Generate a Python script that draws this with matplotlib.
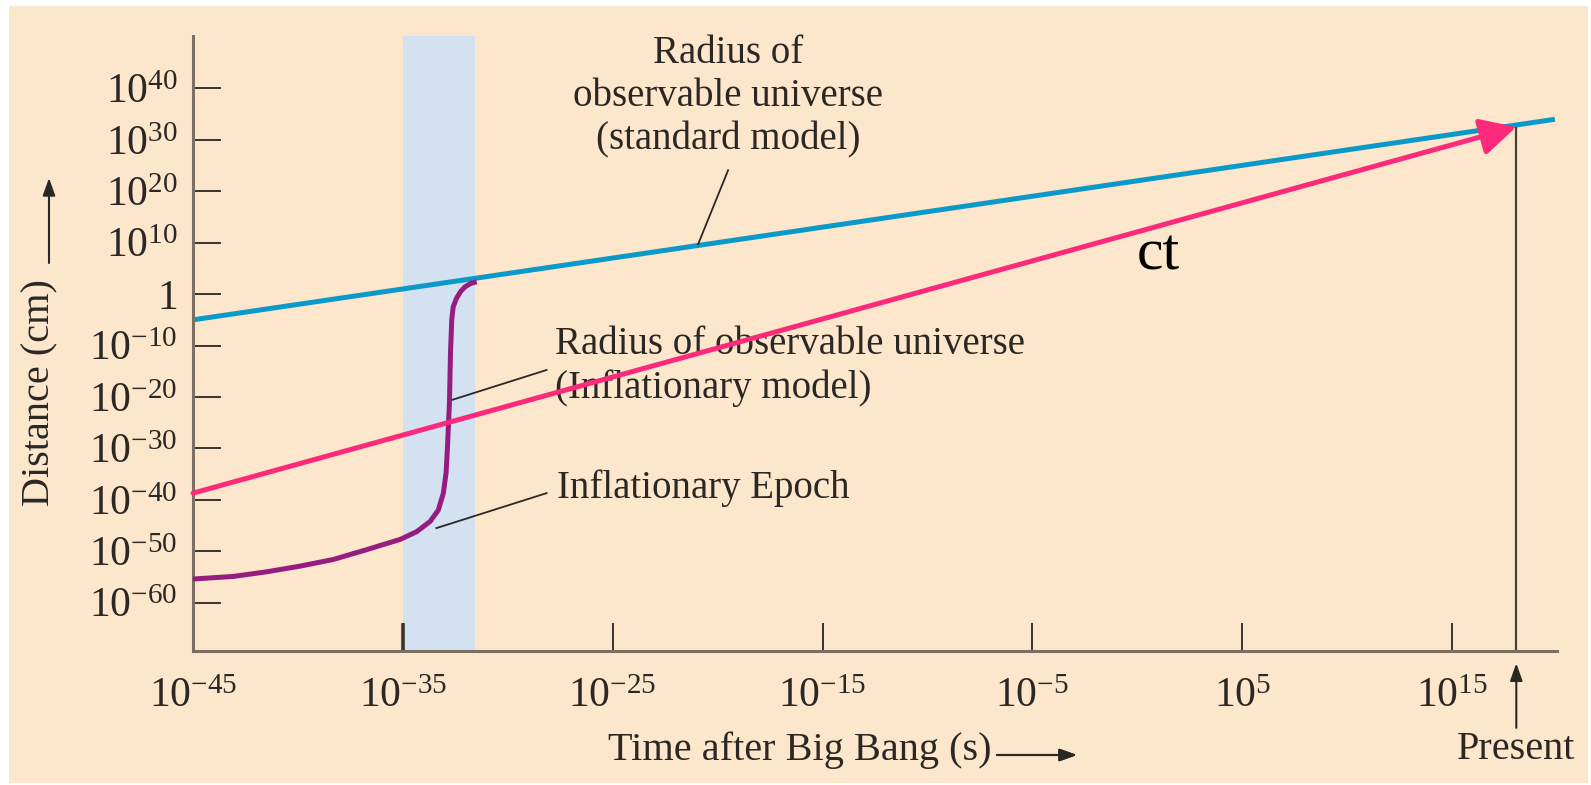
import matplotlib
matplotlib.use('Agg')
import matplotlib.pyplot as plt
from matplotlib.patches import Rectangle
from matplotlib.ticker import NullLocator
import numpy as np

plt.rcParams['font.family'] = ['Liberation Serif', 'DejaVu Serif']
plt.rcParams['mathtext.fontset'] = 'custom'
plt.rcParams['mathtext.rm'] = 'Liberation Serif'
plt.rcParams['mathtext.it'] = 'Liberation Serif:italic'

# tick exponents
x_tick_exp = [-45, -35, -25, -15, -5, 5, 15]
y_tick_exp = [40, 30, 20, 10, 0, -10, -20, -30, -40, -50, -60]

# log10 values
std_t = [-45, 19.9]          # standard model radius
std_r = [-5.0, 34.0]
ct_t = [-45, 18.06]          # light travel distance ct
ct_r = [-38.7, 32.5]
infl_t = [-45.0, -43.08, -41.49, -39.90, -38.31, -36.73, -35.13, -34.34, -33.70,
          -33.31, -33.07, -32.94, -32.88, -32.78, -32.73, -32.67, -32.60, -32.44,
          -32.25, -32.04, -31.76, -31.48]
infl_r = [-55.4, -54.9, -54.0, -52.9, -51.6, -49.7, -47.7, -46.2, -44.2,
          -42.0, -38.7, -34.8, -30.3, -21.2, -11.5, -5.0, -2.45, -0.8,
          0.5, 1.4, 2.1, 2.4]
epoch_t = [-35, -31.55]      # inflationary epoch band
present_t = 18.06

beige = '#fde7cc'
band = '#d4e1f1'
blue = '#0b99c9'
pink = '#fc2a7b'
purple = '#961c80'
ink = '#2b2724'

fig = plt.figure(figsize=(15.91, 7.85), dpi=100)
fig.patch.set_facecolor('white')
fig.add_artist(Rectangle((9 / 1591, 2 / 785), 1579 / 1591, 777 / 785,
                         transform=fig.transFigure, facecolor=beige,
                         edgecolor='none', zorder=-10))

ax = fig.add_axes([193 / 1591, 134 / 785, 1364 / 1591, 615 / 785])
ax.patch.set_visible(False)
ax.set_xscale('log')
ax.set_yscale('log')
ymin, ymax = 10 ** -69.4, 10 ** 50.2
ax.set_xlim(1e-45, 1e20)
ax.set_ylim(ymin, ymax)

ax.axvspan(10.0 ** epoch_t[0], 10.0 ** epoch_t[1], color=band, lw=0, zorder=0)

ax.plot(10.0 ** np.array(std_t), 10.0 ** np.array(std_r), color=blue, lw=3.6,
        solid_capstyle='butt', zorder=2)
ax.plot(10.0 ** np.array(infl_t), 10.0 ** np.array(infl_r), color=purple, lw=3.6,
        solid_joinstyle='round', solid_capstyle='butt', zorder=3)
ax.vlines(10.0 ** present_t, ymin, 10.0 ** ct_r[1], color='#4a4038', lw=1.6, zorder=2)
ax.annotate('', xy=(10.0 ** ct_t[1], 10.0 ** ct_r[1]),
            xytext=(10.0 ** ct_t[0], 10.0 ** ct_r[0]),
            arrowprops=dict(arrowstyle='-|>,head_length=1.45,head_width=0.75',
                            mutation_scale=15, color=pink, lw=3.6,
                            shrinkA=0, shrinkB=0), zorder=4)

# ticks
ax.set_xticks(10.0 ** np.array(x_tick_exp))
ax.set_xticklabels([f'$10^{{{e}}}$' for e in x_tick_exp])
ax.set_yticks(10.0 ** np.array(y_tick_exp))
ax.set_yticklabels(['1' if e == 0 else f'$10^{{{e}}}$' for e in y_tick_exp])
ax.xaxis.set_minor_locator(NullLocator())
ax.yaxis.set_minor_locator(NullLocator())
ax.tick_params(direction='in', length=20, width=1.4, color='#3a3330',
               labelsize=30, labelcolor=ink)
ax.tick_params(axis='x', pad=19)
ax.tick_params(axis='y', pad=11)
ax.xaxis.get_major_ticks()[1].tick1line.set_markeredgewidth(2.6)
for s in ['top', 'right']:
    ax.spines[s].set_visible(False)
for s in ['left', 'bottom']:
    ax.spines[s].set_color('#7d6e62')
    ax.spines[s].set_linewidth(2.2)

# annotations
ax.text(10 ** -19.5, 10 ** 38.4, 'Radius of\nobservable universe\n(standard model)',
        ha='center', va='center', multialignment='center', fontsize=28,
        linespacing=1.23, color=ink)
ax.plot([10 ** -19.5, 10 ** -20.93], [10 ** 24.1, 10 ** 9.7], color=ink, lw=1.3)

ax.text(10 ** -27.75, 10 ** -14.1, 'Radius of observable universe\n(Inflationary model)',
        ha='left', va='center', fontsize=28, linespacing=1.21, color=ink)
ax.plot([10 ** -28.15, 10 ** -32.68], [10 ** -14.75, 10 ** -20.6], color=ink, lw=1.3)

ax.text(10 ** -27.67, 10 ** -37.7, 'Inflationary Epoch', ha='left', va='center',
        fontsize=28, color=ink)
ax.plot([10 ** -28.15, 10 ** -33.4], [10 ** -38.7, 10 ** -45.5], color=ink, lw=1.3)

ax.text(10 ** 0.99, 10 ** 4.7, 'ct', ha='center', va='baseline', fontsize=43,
        color='black')

# present marker below the axis
xt = ax.get_xaxis_transform()
ax.annotate('', xy=(10.0 ** present_t, -0.02), xytext=(10.0 ** present_t, -0.125),
            xycoords=xt, textcoords=xt,
            arrowprops=dict(arrowstyle='-|>,head_length=0.7,head_width=0.25',
                            mutation_scale=15, color=ink, lw=1.5,
                            shrinkA=0, shrinkB=0), annotation_clip=False)
ax.text(10.0 ** present_t, -0.16, 'Present', transform=xt, ha='center',
        va='center', fontsize=29, color=ink)

# axis labels with arrows
fig.text(800 / 1591, 1 - 750 / 785, 'Time after Big Bang (s)', ha='center',
         va='center', fontsize=29, color=ink)
fig.add_artist(plt.annotate('', xy=(1077 / 1591, 1 - 755 / 785),
                            xytext=(997 / 1591, 1 - 755 / 785),
                            xycoords='figure fraction', textcoords='figure fraction',
                            arrowprops=dict(arrowstyle='-|>,head_length=0.7,head_width=0.25',
                                            mutation_scale=15, color=ink, lw=1.5,
                                            shrinkA=0, shrinkB=0)))
fig.text(40 / 1591, 1 - 393 / 785, 'Distance (cm)', ha='center', va='center',
         rotation=90, fontsize=29, color=ink)
ax.annotate('', xy=(49 / 1591, 1 - 178 / 785), xytext=(49 / 1591, 1 - 263 / 785),
            xycoords='figure fraction', textcoords='figure fraction',
            arrowprops=dict(arrowstyle='-|>,head_length=0.7,head_width=0.25',
                            mutation_scale=15, color=ink, lw=1.5,
                            shrinkA=0, shrinkB=0), annotation_clip=False)

fig.savefig('out.png', dpi=100, facecolor=fig.get_facecolor())
